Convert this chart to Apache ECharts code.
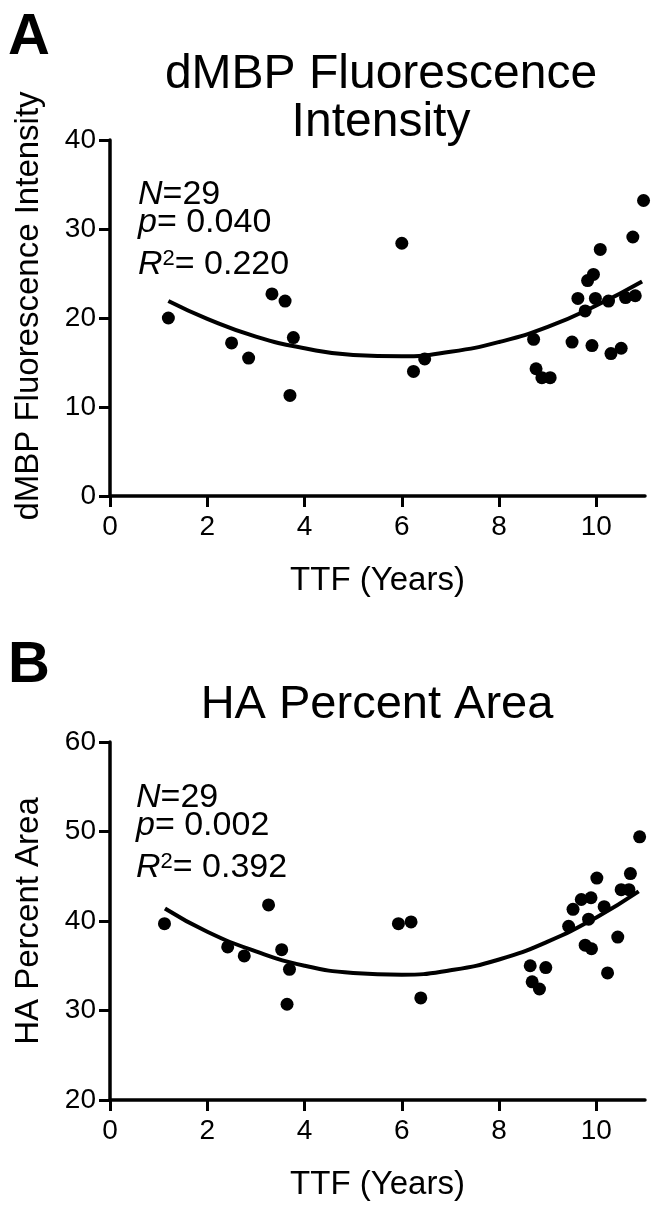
<!DOCTYPE html>
<html>
<head>
<meta charset="utf-8">
<script src="https://cdn.jsdelivr.net/npm/echarts@6/dist/echarts.min.js"></script>
<style>
  html, body { margin: 0; padding: 0; background: #fff; }
  #chart { width: 656px; height: 1210px; }
</style>
</head>
<body>
<div id="chart"></div>
<script>
// panel A: dMBP fluorescence intensity vs TTF
const ttfA = [1.20, 2.50, 2.85, 3.33, 3.60, 3.77, 3.70, 6.00, 6.24, 6.47, 8.71, 8.76, 8.88, 9.05, 9.50,
  9.62, 9.77, 9.82, 9.94, 9.91, 9.98, 10.08, 10.25, 10.30, 10.51, 10.60, 10.80, 10.75, 10.97];
const dmbp = [20.0, 17.2, 15.5, 22.7, 21.9, 17.8, 11.3, 28.4, 14.0, 15.4, 17.6, 14.3, 13.3, 13.3, 17.3,
  22.2, 20.8, 24.2, 24.9, 16.9, 22.2, 27.7, 21.9, 16.0, 16.6, 22.3, 22.5, 29.1, 33.2];
const fitXA = [1.2, 2, 3, 4, 5, 6, 7, 8, 9, 10, 10.94];
const fitA = [21.9, 19.9, 17.9, 16.6, 15.85, 15.7, 16.2, 17.3, 19.0, 21.4, 24.1];

// panel B: HA percent area vs TTF
const ttfB = [1.12, 2.42, 2.76, 3.26, 3.53, 3.69, 3.64, 5.93, 6.19, 6.39, 8.64, 8.96, 8.68, 8.83, 9.43,
  9.52, 9.69, 9.89, 9.84, 9.77, 9.90, 10.01, 10.16, 10.23, 10.44, 10.51, 10.67, 10.70, 10.89];
const haArea = [39.7, 37.1, 36.1, 41.8, 36.8, 34.6, 30.7, 39.7, 39.9, 31.4, 35.0, 34.8, 33.2, 32.4, 39.4,
  41.3, 42.4, 42.6, 40.2, 37.3, 36.9, 44.8, 41.6, 34.2, 38.2, 43.5, 43.5, 45.3, 49.4];
const fitXB = [1.13, 2, 3, 4, 5, 6, 7, 8, 9, 10, 10.87];
const fitB = [41.4, 38.8, 36.6, 35.0, 34.2, 34.0, 34.5, 35.7, 37.7, 40.4, 43.3];

const xTicks = [0, 2, 4, 6, 8, 10];
const statsA = ["29", "0.040", "0.220"];
const statsB = ["29", "0.002", "0.392"];

const FONT = "Liberation Sans";

const pairs = (xs, ys) => xs.map((x, i) => [x, ys[i]]);

const makeX = (gridIndex) => ({
  type: "value",
  gridIndex: gridIndex,
  min: 0,
  max: 11,
  interval: 2,
  name: "TTF (Years)",
  nameLocation: "middle",
  nameGap: 68,
  nameTextStyle: { fontFamily: FONT, fontSize: 33, color: "#000" },
  axisLine: { show: true, onZero: false, lineStyle: { color: "#000", width: 3.5 } },
  axisTick: { show: true, length: 11, customValues: xTicks, lineStyle: { color: "#000", width: 3 } },
  axisLabel: { customValues: xTicks, margin: 17, fontFamily: FONT, fontSize: 28, color: "#000" },
  splitLine: { show: false },
});

const makeY = (gridIndex, min, max) => ({
  type: "value",
  gridIndex: gridIndex,
  min: min,
  max: max,
  interval: 10,
  axisLine: { show: true, onZero: false, lineStyle: { color: "#000", width: 3.5 } },
  axisTick: { show: true, length: 11, lineStyle: { color: "#000", width: 3 } },
  axisLabel: { margin: 14, fontFamily: FONT, fontSize: 28, color: "#000" },
  splitLine: { show: false },
});

const italic = { fontStyle: "italic", fontFamily: FONT, fontSize: 34 };

const statText = (x, y, stats) => [
  {
    type: "text", x: x, y: y,
    style: { text: "{i|N}=" + stats[0], fontFamily: FONT, fontSize: 34, fill: "#000", rich: { i: italic } },
  },
  {
    type: "text", x: x, y: y + 28,
    style: { text: "{i|p}= " + stats[1], fontFamily: FONT, fontSize: 34, fill: "#000", rich: { i: italic } },
  },
  {
    type: "text", x: x, y: y + 70,
    style: {
      text: "{i|R}{s|2}= " + stats[2], fontFamily: FONT, fontSize: 34, fill: "#000",
      rich: { i: italic, s: { fontFamily: FONT, fontSize: 22, verticalAlign: "top" } },
    },
  },
];

const option = {
  backgroundColor: "#fff",
  animation: false,
  grid: [
    { left: 110, top: 140, width: 535, height: 356 },
    { left: 110, top: 742, width: 535, height: 358 },
  ],
  xAxis: [makeX(0), makeX(1)],
  yAxis: [makeY(0, 0, 40), makeY(1, 20, 60)],
  series: [
    {
      type: "scatter", xAxisIndex: 0, yAxisIndex: 0,
      symbolSize: 13, itemStyle: { color: "#000", opacity: 1 },
      data: pairs(ttfA, dmbp),
    },
    {
      type: "line", xAxisIndex: 0, yAxisIndex: 0,
      smooth: true, showSymbol: false,
      lineStyle: { color: "#000", width: 4 },
      data: pairs(fitXA, fitA),
    },
    {
      type: "scatter", xAxisIndex: 1, yAxisIndex: 1,
      symbolSize: 13, itemStyle: { color: "#000", opacity: 1 },
      data: pairs(ttfB, haArea),
    },
    {
      type: "line", xAxisIndex: 1, yAxisIndex: 1,
      smooth: true, showSymbol: false,
      lineStyle: { color: "#000", width: 4 },
      data: pairs(fitXB, fitB),
    },
  ],
  graphic: [
    { type: "text", x: 8, y: 9, style: { text: "A", fontFamily: FONT, fontSize: 58, fontWeight: "bold", fill: "#000" } },
    { type: "text", x: 8, y: 637, style: { text: "B", fontFamily: FONT, fontSize: 58, fontWeight: "bold", fill: "#000" } },
    {
      type: "text", x: 381, y: 51,
      style: {
        text: "dMBP Fluorescence\nIntensity", fontFamily: FONT, fontSize: 48, lineHeight: 48,
        align: "center", fill: "#000",
      },
    },
    {
      type: "text", x: 377, y: 682,
      style: { text: "HA Percent Area", fontFamily: FONT, fontSize: 47, lineHeight: 47, align: "center", fill: "#000" },
    },
    {
      type: "text", x: 29, y: 306, rotation: Math.PI / 2,
      style: {
        text: "dMBP Fluorescence Intensity", fontFamily: FONT, fontSize: 33,
        align: "center", verticalAlign: "middle", fill: "#000",
      },
    },
    {
      type: "text", x: 29, y: 921, rotation: Math.PI / 2,
      style: {
        text: "HA Percent Area", fontFamily: FONT, fontSize: 33,
        align: "center", verticalAlign: "middle", fill: "#000",
      },
    },
    ...statText(138, 178, statsA),
    ...statText(136, 781, statsB),
  ],
};

const chart = echarts.init(document.getElementById("chart"));
chart.setOption(option);
</script>
</body>
</html>
